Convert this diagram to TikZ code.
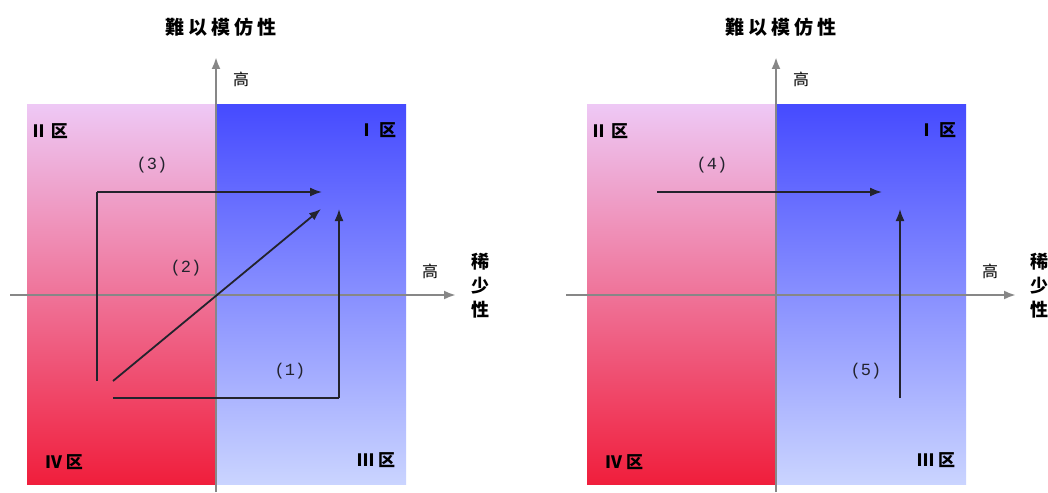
\documentclass[tikz,border=0pt]{standalone}
\usepackage{fontspec}
\usetikzlibrary{arrows.meta}
\newfontfamily\cjk{Noto Sans CJK SC}
\setmonofont{Liberation Mono}
\definecolor{pinktop}{RGB}{238,200,245}
\definecolor{pinkmid}{RGB}{240,125,180}
\definecolor{pinkbot}{RGB}{240,30,60}
\definecolor{bluetop}{RGB}{70,75,255}
\definecolor{bluemid}{RGB}{140,150,250}
\definecolor{bluebot}{RGB}{202,212,255}
\definecolor{axisgray}{RGB}{135,135,135}
\definecolor{arrowdark}{RGB}{35,35,45}
\begin{document}
\begin{tikzpicture}[x=1pt,y=-1pt,
  axis/.style={draw=axisgray, line width=2.6pt, -{Latex[length=12pt,width=9pt]}},
  move/.style={draw=arrowdark, line width=1.8pt, -{Latex[length=12pt,width=9pt]}},
  path/.style={draw=arrowdark, line width=1.8pt},
  title/.style={font=\cjk\bfseries\fontsize{19}{21}\selectfont, inner sep=0pt},
  high/.style={font=\cjk\fontsize{16}{18}\selectfont, inner sep=0pt},
  zone/.style={font=\cjk\bfseries\fontsize{17}{19}\selectfont, inner sep=0pt},
  num/.style={font=\ttfamily\fontsize{17}{19}\selectfont, inner sep=0pt, text=arrowdark}]
\useasboundingbox (0,0) rectangle (1048,492);
\fill[white] (0,0) rectangle (1048,492);

% ---------- left panel ----------
\shade[top color=pinktop, middle color=pinkmid, bottom color=pinkbot] (27,105) rectangle (216,484);
\shade[top color=bluetop, middle color=bluemid, bottom color=bluebot] (216,105) rectangle (406,484);
\coordinate (LyB) at (216,492);
\coordinate (LyT) at (216,57);
\coordinate (LxL) at (10,295);
\coordinate (LxR) at (456,295);
\draw[axis] (LyB) -- (LyT);
\draw[axis] (LxL) -- (LxR);
\node[title] (Ltitle) at (221,27) {難\kern4pt 以\kern4pt 模\kern4pt 仿\kern4pt 性};
\node[high] (LhighY) at (241,79) {高};
\node[high] (LhighX) at (430,271) {高};
\node[title, align=center, font=\cjk\bfseries\fontsize{18}{24}\selectfont] (Lrare) at (480,286) {稀\\少\\性};
\node[zone] (LII) at (49,131) {Ⅱ\kern4pt 区};
\node[zone] (LI) at (377,130) {Ⅰ\kern4pt 区};
\node[zone] (LIV) at (64,462) {Ⅳ\kern4pt 区};
\node[zone] (LIII) at (376,460) {Ⅲ\kern4pt 区};
% moves
\coordinate (L3s) at (97,381);
\coordinate (L3c) at (97,192);
\coordinate (L3e) at (322,192);
\draw[path] (L3s) -- (L3c);
\draw[move] (L3c) -- (L3e);
\coordinate (L2s) at (113,381);
\coordinate (L2e) at (321,209);
\draw[move] (L2s) -- (L2e);
\coordinate (L1s) at (113,398);
\coordinate (L1c) at (339,398);
\coordinate (L1e) at (339,209);
\draw[path] (L1s) -- (L1c);
\draw[move] (L1c) -- (L1e);
\node[num] (Ln3) at (152,165) {(3)};
\node[num] (Ln2) at (186,268) {(2)};
\node[num] (Ln1) at (290,371) {(1)};

% ---------- right panel ----------
\shade[top color=pinktop, middle color=pinkmid, bottom color=pinkbot] (587,105) rectangle (776,484);
\shade[top color=bluetop, middle color=bluemid, bottom color=bluebot] (776,105) rectangle (966,484);
\coordinate (RyB) at (776,492);
\coordinate (RyT) at (776,57);
\coordinate (RxL) at (566,295);
\coordinate (RxR) at (1016,295);
\draw[axis] (RyB) -- (RyT);
\draw[axis] (RxL) -- (RxR);
\node[title] (Rtitle) at (781,27) {難\kern4pt 以\kern4pt 模\kern4pt 仿\kern4pt 性};
\node[high] (RhighY) at (801,79) {高};
\node[high] (RhighX) at (990,271) {高};
\node[title, align=center, font=\cjk\bfseries\fontsize{18}{24}\selectfont] (Rrare) at (1039,286) {稀\\少\\性};
\node[zone] (RII) at (609,131) {Ⅱ\kern4pt 区};
\node[zone] (RI) at (937,130) {Ⅰ\kern4pt 区};
\node[zone] (RIV) at (624,462) {Ⅳ\kern4pt 区};
\node[zone] (RIII) at (936,460) {Ⅲ\kern4pt 区};
\coordinate (R4s) at (657,192);
\coordinate (R4e) at (882,192);
\draw[move] (R4s) -- (R4e);
\coordinate (R5s) at (900,398);
\coordinate (R5e) at (900,209);
\draw[move] (R5s) -- (R5e);
\node[num] (Rn4) at (712,165) {(4)};
\node[num] (Rn5) at (866,371) {(5)};
\end{tikzpicture}
\end{document}
